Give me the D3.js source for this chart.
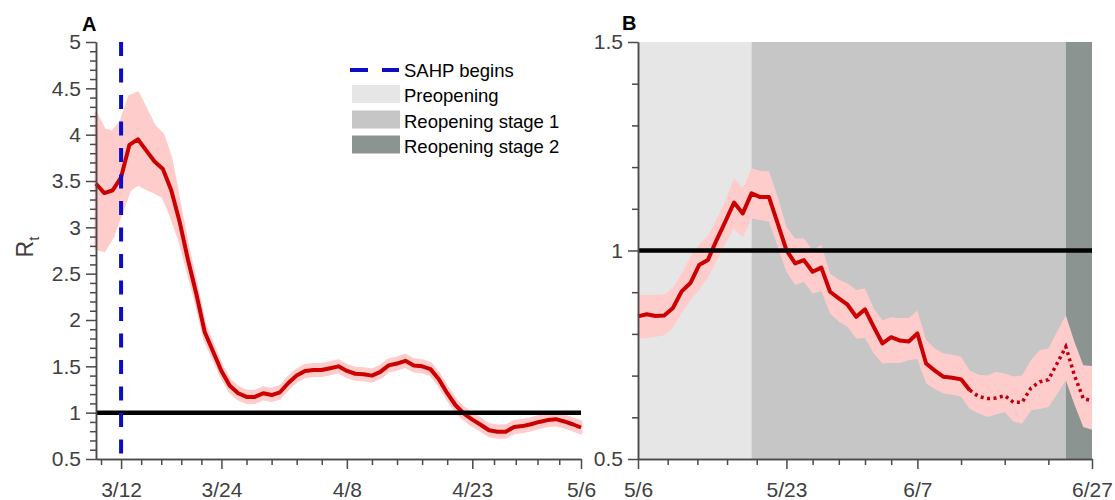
<!DOCTYPE html>
<html><head><meta charset="utf-8">
<script src="https://cdn.jsdelivr.net/npm/d3@7"></script>
<style>body{margin:0;background:#fff}</style>
</head><body><svg id="c" width="1115" height="500"></svg>
<script>
// ---------- Panel A data ----------
const startA = "2020-03-09";
const rtA = [3.47,3.37,3.40,3.54,3.89,3.95,3.83,3.71,3.63,3.40,
             3.06,2.65,2.28,1.87,1.66,1.45,1.29,1.21,1.17,1.17,
             1.21,1.19,1.22,1.32,1.40,1.45,1.46,1.46,1.48,1.50,
             1.45,1.42,1.415,1.40,1.44,1.51,1.53,1.56,1.51,1.50,
             1.47,1.36,1.21,1.08,0.99,0.925,0.87,0.81,0.795,0.795,
             0.845,0.855,0.875,0.90,0.92,0.93,0.905,0.875,0.84];
const upA = [4.23,4.05,4.03,4.14,4.41,4.45,4.27,4.09,4.00,3.73,
             3.25,2.78,2.38,1.95,1.73,1.51,1.35,1.27,1.23,1.23,
             1.27,1.25,1.28,1.38,1.46,1.51,1.52,1.52,1.54,1.56,
             1.51,1.48,1.475,1.46,1.50,1.57,1.59,1.62,1.57,1.56,
             1.53,1.42,1.27,1.14,1.05,0.985,0.93,0.87,0.855,0.855,
             0.905,0.915,0.935,0.96,0.98,0.99,0.965,0.935,0.90];
const loA = [2.77,2.75,2.90,3.15,3.40,3.47,3.42,3.38,3.33,3.12,
             2.86,2.52,2.18,1.79,1.59,1.39,1.23,1.15,1.11,1.11,
             1.15,1.13,1.16,1.26,1.34,1.39,1.40,1.40,1.42,1.44,
             1.39,1.36,1.355,1.34,1.38,1.45,1.47,1.50,1.45,1.44,
             1.41,1.30,1.15,1.02,0.93,0.865,0.81,0.75,0.735,0.735,
             0.785,0.795,0.815,0.84,0.86,0.87,0.845,0.815,0.78];
const xDomainA = ["2020-03-09","2020-05-06"];
const xTicksA = ["2020-03-12","2020-03-24","2020-04-08","2020-04-23","2020-05-06"];
const xTickLabelsA = ["3/12","3/24","4/8","4/23","5/6"];
const xMinorDivA = [5,5,5,5];
const yTicksA = [0.5,1,1.5,2,2.5,3,3.5,4,4.5,5];
const yDomainA = [0.5,5];
const sahpDate = "2020-03-12";

// ---------- Panel B data ----------
const startB = "2020-05-06";
const rtB = [0.842,0.847,0.843,0.844,0.862,0.902,0.922,0.965,0.977,1.025,
             1.069,1.115,1.089,1.137,1.128,1.128,1.065,1.001,0.969,0.977,
             0.949,0.959,0.901,0.885,0.870,0.841,0.859,0.817,0.777,0.792,
             0.784,0.782,0.801,0.729,0.712,0.697,0.695,0.691,0.665,0.650,
             0.645,0.646,0.652,0.636,0.636,0.670,0.685,0.690,0.729,0.769,
             0.700,0.645,0.640];
const upB = [0.893,0.893,0.893,0.895,0.910,0.945,0.985,1.015,1.035,1.075,
             1.120,1.173,1.150,1.197,1.191,1.190,1.129,1.057,1.029,1.029,
             1.001,1.013,0.945,0.930,0.921,0.905,0.909,0.861,0.833,0.840,
             0.838,0.838,0.856,0.785,0.765,0.753,0.750,0.745,0.712,0.702,
             0.700,0.709,0.705,0.698,0.700,0.737,0.761,0.765,0.805,0.845,
             0.780,0.725,0.723];
const loB = [0.789,0.790,0.793,0.797,0.815,0.850,0.880,0.905,0.935,0.975,
             1.015,1.053,1.032,1.077,1.073,1.069,1.009,0.949,0.917,0.925,
             0.897,0.903,0.849,0.830,0.817,0.789,0.790,0.753,0.729,0.730,
             0.730,0.737,0.740,0.681,0.668,0.657,0.654,0.650,0.620,0.610,
             0.601,0.607,0.613,0.590,0.585,0.617,0.620,0.625,0.655,0.689,
             0.630,0.577,0.570];
const dottedFromB = 38;
const xDomainB = ["2020-05-06","2020-06-27"];
const xTicksB = ["2020-05-06","2020-05-23","2020-06-07","2020-06-27"];
const xTickLabelsB = ["5/6","5/23","6/7","6/27"];
const xMinorDivB = [5,5,4];
const yTicksB = [0.5,1,1.5];
const yDomainB = [0.5,1.5];
const phaseNames = ["Preopening","Reopening stage 1","Reopening stage 2"];
const phaseStarts = ["2020-05-06","2020-05-19","2020-06-24"];
const phaseEnds = ["2020-05-19","2020-06-24","2020-06-27"];
const phaseColors = ["#e6e6e6","#c6c6c6","#8c9491"];
const legendLabels = ["SAHP begins","Preopening","Reopening stage 1","Reopening stage 2"];

// ---------- Drawing ----------
const parse = d3.utcParse("%Y-%m-%d");
const svg = d3.select("#c");
const FONT = "'Liberation Sans', Arial, Helvetica, sans-serif";
const AX = "#4a4a4a", TXT = "#404040";
const RED = "#cc0000", BAND = "#ffcccc";

function minorTicks(majors, divs, domain) {
  const out = [];
  for (let i = 0; i < majors.length - 1; i++) {
    const a = +majors[i], b = +majors[i+1], n = divs[i];
    for (let k = 1; k < n; k++) out.push(new Date(a + (b - a) * k / n));
  }
  const step = (+majors[1] - +majors[0]) / divs[0];
  for (let t = +majors[0] - step; t >= +domain[0]; t -= step) out.push(new Date(t));
  return out;
}

function panel(opt) {
  const x = d3.scaleUtc().domain(opt.xDomain.map(parse)).range(opt.xr);
  const y = d3.scaleLinear().domain(opt.yDomain).range(opt.yr);
  const g = svg.append("g");
  const start = parse(opt.start);
  const pts = opt.rt.map((v, i) => ({d: d3.utcDay.offset(start, i), v, u: opt.up[i], l: opt.lo[i]}));
  return {x, y, g, pts};
}

function axes(p, opt) {
  const {x, y, g} = p;
  const majorsX = opt.xTicks.map(parse);
  const minX = minorTicks(majorsX, opt.xMinorDiv, opt.xDomain.map(parse));
  const yMin = [];
  for (let k = 0; k <= Math.round((opt.yDomain[1]-opt.yDomain[0])/0.1); k++) {
    const v = +(opt.yDomain[0] + k*0.1).toFixed(2);
    if (!opt.yTicks.some(t => Math.abs(t - v) < 1e-6)) yMin.push(v);
  }
  const bx = opt.yr[0];
  const lx = opt.xr[0];
  const gxm = g.append("g").attr("transform", `translate(0,${bx})`)
    .call(d3.axisBottom(x).tickValues(minX).tickSize(6).tickSizeOuter(0).tickFormat(""));
  const gx = g.append("g").attr("transform", `translate(0,${bx})`)
    .call(d3.axisBottom(x).tickValues(majorsX).tickSize(10).tickSizeOuter(0).tickPadding(13)
      .tickFormat((d, i) => opt.xTickLabels[i]));
  const gym = g.append("g").attr("transform", `translate(${lx},0)`)
    .call(d3.axisLeft(y).tickValues(yMin).tickSize(6).tickSizeOuter(0).tickFormat(""));
  const gy = g.append("g").attr("transform", `translate(${lx},0)`)
    .call(d3.axisLeft(y).tickValues(opt.yTicks).tickSize(10).tickSizeOuter(0).tickPadding(5)
      .tickFormat(d => String(d)));
  [gxm, gx, gym, gy].forEach(a => {
    a.selectAll("path,line").attr("stroke", AX).attr("stroke-width", 1.5);
    a.selectAll("text").attr("fill", TXT).style("font-family", FONT).style("font-size", "21px");
  });
}

// Panel A
const optA = {start: startA, rt: rtA, up: upA, lo: loA, xDomain: xDomainA, yDomain: yDomainA,
  xr: [96, 581], yr: [459, 42], xTicks: xTicksA, xTickLabels: xTickLabelsA, xMinorDiv: xMinorDivA, yTicks: yTicksA};
const A = panel(optA);
A.g.append("path").datum(A.pts)
  .attr("d", d3.area().x(d => A.x(d.d)).y0(d => A.y(d.l)).y1(d => A.y(d.u)))
  .attr("fill", BAND).attr("stroke", BAND).attr("stroke-width", 3).attr("stroke-linejoin", "round");
A.g.append("path").datum(A.pts)
  .attr("d", d3.line().x(d => A.x(d.d)).y(d => A.y(d.v)))
  .attr("fill", "none").attr("stroke", RED).attr("stroke-width", 4).attr("stroke-linejoin", "round");
A.g.append("line").attr("x1", A.x(parse(xDomainA[0]))).attr("x2", A.x(parse(xDomainA[1])))
  .attr("y1", A.y(1)).attr("y2", A.y(1)).attr("stroke", "#000").attr("stroke-width", 4.5);
A.g.append("line").attr("x1", A.x(parse(sahpDate))).attr("x2", A.x(parse(sahpDate)))
  .attr("y1", A.y(yDomainA[1])).attr("y2", A.y(yDomainA[0]))
  .attr("stroke", "#0d0dc4").attr("stroke-width", 4).attr("stroke-dasharray", "14,12.5");
axes(A, optA);

// Panel B
const optB = {start: startB, rt: rtB, up: upB, lo: loB, xDomain: xDomainB, yDomain: yDomainB,
  xr: [638, 1092], yr: [459, 42], xTicks: xTicksB, xTickLabels: xTickLabelsB, xMinorDiv: xMinorDivB, yTicks: yTicksB};
const B = panel(optB);
phaseNames.forEach((n, i) => {
  B.g.append("rect").attr("x", B.x(parse(phaseStarts[i]))).attr("y", B.y(yDomainB[1]))
    .attr("width", B.x(parse(phaseEnds[i])) - B.x(parse(phaseStarts[i])))
    .attr("height", B.y(yDomainB[0]) - B.y(yDomainB[1])).attr("fill", phaseColors[i]);
});
B.g.append("path").datum(B.pts)
  .attr("d", d3.area().x(d => B.x(d.d)).y0(d => B.y(d.l)).y1(d => B.y(d.u)))
  .attr("fill", BAND);
B.g.append("path").datum(B.pts.slice(0, dottedFromB + 1))
  .attr("d", d3.line().x(d => B.x(d.d)).y(d => B.y(d.v)))
  .attr("fill", "none").attr("stroke", RED).attr("stroke-width", 4).attr("stroke-linejoin", "round");
B.g.append("path").datum(B.pts.slice(dottedFromB))
  .attr("d", d3.line().x(d => B.x(d.d)).y(d => B.y(d.v)))
  .attr("fill", "none").attr("stroke", "#c00010").attr("stroke-width", 3.5).attr("stroke-dasharray", "3,3.5");
B.g.append("line").attr("x1", B.x(parse(xDomainB[0]))).attr("x2", B.x(parse(xDomainB[1])))
  .attr("y1", B.y(1)).attr("y2", B.y(1)).attr("stroke", "#000").attr("stroke-width", 4.5);
axes(B, optB);

// Panel letters
svg.append("text").attr("x", 82).attr("y", 31).text("A")
  .style("font-family", FONT).style("font-size", "20px").style("font-weight", "bold").attr("fill", "#000");
svg.append("text").attr("x", 622).attr("y", 30).text("B")
  .style("font-family", FONT).style("font-size", "20px").style("font-weight", "bold").attr("fill", "#000");

// Y label
const yl = svg.append("text").attr("transform", "translate(33,247) rotate(-90)")
  .attr("text-anchor", "middle").attr("fill", TXT).style("font-family", FONT).style("font-size", "23px");
yl.append("tspan").text("R");
yl.append("tspan").attr("dy", 6).style("font-size", "15px").text("t");

// Legend
const lg = svg.append("g");
lg.append("line").attr("x1", 350).attr("x2", 399).attr("y1", 70).attr("y2", 70)
  .attr("stroke", "#0d0dc4").attr("stroke-width", 4).attr("stroke-dasharray", "18,14");
const rowY = [77, 102, 127.5, 152.5];
phaseColors.forEach((c, i) => {
  lg.append("rect").attr("x", 352).attr("y", rowY[i+1] - 17).attr("width", 48).attr("height", 18).attr("fill", c);
});
legendLabels.forEach((t, i) => {
  lg.append("text").attr("x", 404).attr("y", rowY[i]).text(t).attr("fill", "#000")
    .style("font-family", FONT).style("font-size", "18.5px");
});
</script></body></html>
